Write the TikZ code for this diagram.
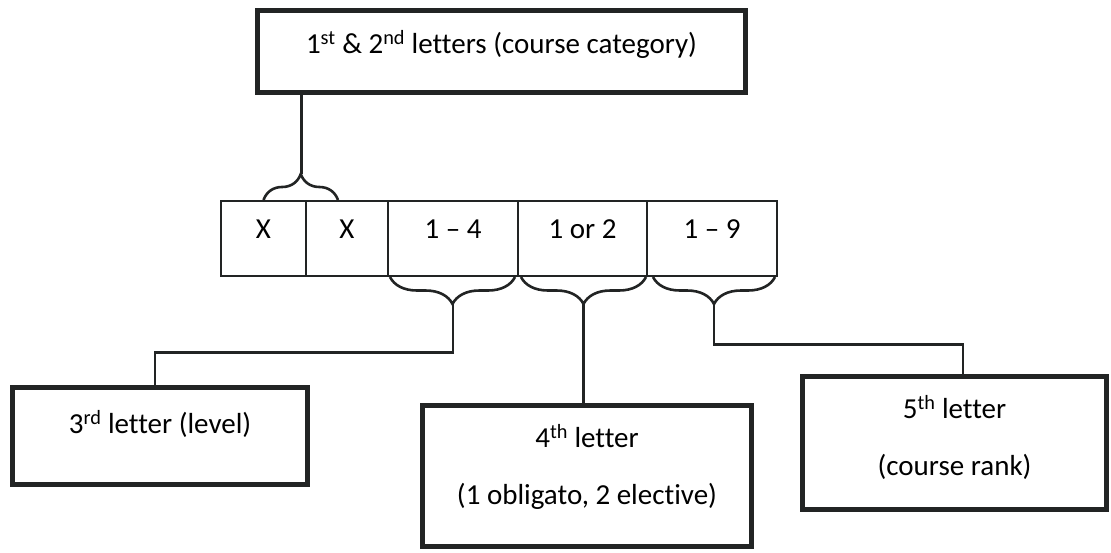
\documentclass[tikz,border=0pt]{standalone}
\usepackage{fontspec}
\setmainfont[Ligatures=NoCommon]{Carlito}
\usetikzlibrary{decorations.pathreplacing,calc}
\definecolor{ink}{RGB}{34,36,36}
\begin{document}
\begin{tikzpicture}[x=1pt,y=-1pt,
  txt/.style={font=\fontsize{29}{30}\selectfont},
  heavybox/.style={draw=ink,line width=5.5pt,inner sep=0pt,align=center,txt},
  cell/.style={draw=ink,line width=2pt,minimum height=75pt,inner sep=0pt,text depth=18pt,txt},
  link/.style={draw=ink,line width=2.6pt},
  curly/.style={link,decorate,decoration={brace,amplitude=26pt}},
  curlydown/.style={link,decorate,decoration={brace,mirror,amplitude=27pt}},
]
\useasboundingbox (0,0) rectangle (1111,552);

% header box
\node[heavybox,minimum width=488pt,minimum height=82pt,text depth=20pt] (cat) at (501.5,51.5)
  {1\textsuperscript{st} \& 2\textsuperscript{nd} letters (course category)};

% row of code positions
\node[cell,minimum width=85pt]  (x1) at (263.5,238.5) {X};
\node[cell,minimum width=82pt]  (x2) at (347,238.5) {X};
\node[cell,minimum width=130pt] (c3) at (453,238.5) {1 -- 4};
\node[cell,minimum width=129pt] (c4) at (582.5,238.5) {1 or 2};
\node[cell,minimum width=130pt] (c5) at (712,238.5) {1 -- 9};

% description boxes
\node[heavybox,minimum width=295pt,minimum height=97pt,text depth=29pt] (lvl) at (160,436)
  {3\textsuperscript{rd} letter (level)};
\node[heavybox,minimum width=329pt,minimum height=141pt,text depth=23pt] (obl) at (587,476)
  {4\textsuperscript{th} letter\\[27pt](1 obligato, 2 elective)};
\node[heavybox,minimum width=304pt,minimum height=133pt,text depth=15pt] (rank) at (954.5,443)
  {5\textsuperscript{th} letter\\[27pt](course rank)};

% braces
\draw[curly] (x1.north) -- ($(x2.north)+(-9,0)$);
\coordinate (tA) at ($(x1.north)!0.5!(x2.north)+(-4,-26)$);
\draw[curlydown] ($(c3.south west)+(3,0)$) -- ($(c3.south east)+(-4,0)$);
\coordinate (tB) at ($(c3.south)+(0,27)$);
\draw[curlydown] ($(c4.south west)+(4,0)$) -- ($(c4.south east)+(-2,0)$);
\coordinate (tC) at ($(c4.south)+(1,27)$);
\draw[curlydown] ($(c5.south west)+(7,0)$) -- ($(c5.south east)+(-3,0)$);
\coordinate (tD) at ($(c5.south)+(2,27)$);

% connectors
\draw[link] (cat.south -| tA) -- (tA);
\draw[link] (tB) |- ($(lvl.north)+(-5,-32)$) -- ($(lvl.north)+(-5,0)$);
\draw[link] (tC) -- (tC |- obl.north);
\draw[link] (tD) |- ($(rank.north)+(8.5,-29)$) -- ($(rank.north)+(8.5,0)$);
\end{tikzpicture}
\end{document}
